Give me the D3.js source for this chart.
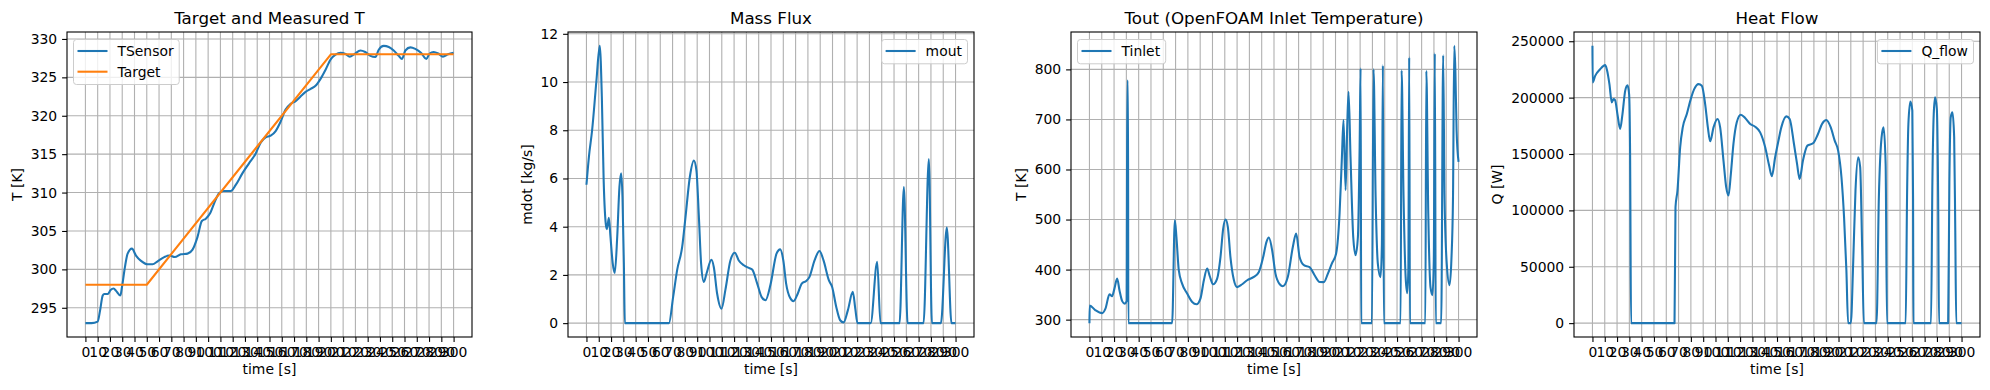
<!DOCTYPE html>
<html>
<head>
<meta charset="utf-8">
<script src="https://cdn.jsdelivr.net/npm/d3@7"></script>
<style>
body { margin: 0; background: #fff; }
text { font-family: "DejaVu Sans", sans-serif; fill: #000; }
</style>
</head>
<body>
<div id="chart"></div>
<script>
var width = 1990;
var height = 390;

// time axis ticks (s)
var timeTicks = [0,10,20,30,40,50,60,70,80,90,100,110,120,130,140,150,160,170,180,190,200,210,220,230,240,250,260,270,280,290,300];

// panel 1: measured and target temperature [K]
var tSensor = [[0,293.0],[5,293.0],[10,293.2],[11.9,294.6],[14.1,296.6],[15.4,296.8],[18.2,296.8],[20.5,297.3],[23,297.5],[25,297.2],[28.5,296.6],[29.8,297.7],[32.2,300.3],[34.4,302.05],[37.9,302.7],[41.2,301.8],[45.3,301.1],[50.7,300.66],[54.7,300.66],[58.8,301.05],[64.2,301.6],[68.3,301.8],[72.9,301.6],[77.8,301.96],[83.2,302.05],[87.3,302.57],[91.3,304.2],[94.9,306.3],[98.1,306.6],[101.6,307.3],[104.9,308.6],[108.9,309.9],[112.5,310.2],[118.4,310.2],[122.5,311.0],[127.9,312.5],[133.3,313.8],[138.8,315.1],[142.8,316.5],[146.9,317.2],[151,317.4],[155,318.0],[159.1,319.25],[163.1,320.8],[167.2,321.55],[171.3,321.9],[175.3,322.5],[179.4,323.1],[183.5,323.5],[187.5,323.9],[191.6,324.8],[195.7,326.0],[199.7,327.3],[203.8,327.95],[207.9,328.2],[211.9,328.05],[215.4,327.7],[219,328.0],[224.1,328.5],[228,328.3],[232.2,327.8],[236.3,327.65],[239,328.6],[243.1,329.1],[247.2,328.95],[251.2,328.5],[255.3,327.8],[258,327.4],[260.7,328.5],[264.8,328.9],[268.8,328.7],[273.4,328.2],[277.8,327.4],[280.5,328.1],[283.7,328.3],[287.5,328.1],[291.3,327.7],[295.5,328.0],[300,328.2]];
var tTarget = [[0,298],[50,298],[200,328],[300,328]];
var tTicks = [295,300,305,310,315,320,325,330];

// panel 2: mass flux [kg/s]
var mOut = [[0,5.74],[2,6.9],[4.6,8.0],[8.1,10.05],[10.8,11.5],[12.5,9.4],[14,5.9],[16,4.0],[16.6,3.9],[18.2,4.37],[19.5,3.6],[21.3,2.5],[23,2.08],[25,3.57],[26.8,5.64],[28.2,6.22],[29.3,5.2],[30.4,2.5],[31.2,0],[67,0],[70.5,1.1],[73.7,2.2],[77.8,3.16],[80.5,4.4],[84,6.05],[87.3,6.74],[89.4,6.33],[91.3,4.5],[93.2,2.47],[95.4,1.71],[97.6,2.06],[101.6,2.63],[103.5,2.33],[106.2,1.23],[109.8,0.6],[113,1.4],[117,2.6],[120.6,2.92],[123.8,2.6],[127.9,2.4],[131.5,2.3],[134.7,2.22],[138.8,1.64],[142.3,1.09],[145.5,0.95],[149.6,1.6],[154.5,2.88],[157.5,3.06],[160,2.6],[162.3,1.64],[165.5,1.05],[168.3,0.91],[171.8,1.23],[175,1.64],[178.6,1.75],[181.3,1.92],[185.4,2.6],[189.4,2.99],[192.7,2.6],[197,1.78],[199.7,1.5],[203,0.68],[206.2,0.12],[209,0.03],[212.5,0.54],[216.5,1.3],[218.5,0.6],[220.3,0],[231,0],[236.3,2.54],[239,0],[254.5,0],[258,5.64],[261,0],[274,0],[278.3,6.81],[280.8,0],[288.1,0],[292.9,3.96],[296.7,0],[300,0]];
var mTicks = [0,2,4,6,8,10,12];

// panel 3: OpenFOAM inlet temperature [K]
var tInlet = [[0,293],[0.2,328],[4.9,318.7],[10.3,313],[13,322],[16.3,350.7],[18.4,346.7],[20.3,362],[22.5,382],[24.4,358.7],[26.6,337],[28.7,332],[30.2,337],[30.8,777],[31.3,777],[31.6,293],[67.2,293],[69.4,498.7],[70.7,465],[72.6,398.7],[75.3,372],[79.4,352],[83.5,335.3],[87,330.7],[90.2,342],[93,378.7],[95.7,402],[97.8,386.7],[100.5,370.7],[103.8,382],[106.5,425],[108.7,482],[110.6,500],[112.5,485],[114.6,425],[117.3,380],[120,365],[124.1,370.7],[128.2,378.7],[133.6,385.3],[137.7,395.3],[141.2,425],[143.9,455.3],[145.8,464],[148.5,438.7],[151.2,392],[154.7,370.7],[157.2,366.7],[161.2,385],[165.3,445],[168,472],[170.8,425],[174.3,408.7],[178.9,405],[183,388.7],[187.1,375.3],[190.5,375],[193.8,392],[197,412],[200.5,432],[203.3,512],[205.2,625],[206.5,698.7],[208.2,558.7],[209.5,685],[210.6,755],[212.2,625],[214.4,465],[216.3,428.7],[218.2,465],[219.6,645],[220.4,802],[220.9,293],[229.6,293],[230.9,800],[232.6,545],[234.4,412],[236.6,385],[237.7,450],[238.5,808],[239.3,293],[252.9,293],[253.7,798],[255.3,545],[257,385],[258.3,353],[259.2,400],[259.9,824],[260.5,293],[273,293],[273.8,797],[275.4,512],[277.2,365],[278.8,349],[279.9,420],[280.7,832],[281.5,293],[285.9,293],[287.5,828],[288.6,545],[290.4,412],[292.7,369],[294.2,420],[295.5,545],[296.5,847],[297.4,800],[298.4,679],[300,615]];
var tInletTicks = [300,400,500,600,700,800];

// panel 4: heat flow [W]
var qFlow = [[0,245900],[0.2,213400],[2.2,219300],[6.2,225200],[10.3,228800],[11.7,225000],[13.8,212000],[15.7,195700],[17.1,198700],[18.4,197800],[20.3,185400],[22.5,172200],[24.4,185400],[26.6,206000],[28.5,211000],[29.8,203000],[30.6,150000],[31.4,0],[66.7,0],[67.5,102900],[69.1,117600],[71.3,156000],[73.4,173600],[76.7,185400],[79.9,198700],[82.7,207500],[86.2,212000],[88.9,210500],[91.6,194300],[93.8,173600],[95.7,161300],[98.4,173600],[101.6,181000],[103.8,173600],[106.5,144200],[108.7,120600],[110.6,113200],[112.5,132400],[114.6,158900],[117.3,178100],[120.6,184800],[124.1,181900],[128.2,176600],[132.2,174200],[136.3,169200],[140.4,156000],[143.6,139700],[145.8,130300],[148.5,147100],[151.2,162000],[153.5,173600],[157.6,183400],[160.3,181000],[163.8,158900],[166.3,141200],[168.4,127900],[171.1,144200],[174.7,157400],[179.3,159500],[183.3,167700],[186.9,177200],[190.1,180100],[193.7,173600],[196.9,161800],[199.7,153000],[202.4,129400],[204.5,94000],[206.4,46900],[207.8,0],[210,0],[211.9,52800],[213.8,117600],[216,147100],[217.6,138300],[219.2,67500],[220.6,0],[230.9,0],[232.8,111700],[235,164800],[236.6,173600],[238.3,141200],[239.4,0],[254.6,0],[255.7,111700],[256.8,176600],[258.4,196600],[260,188400],[260.6,110000],[260.9,0],[275.2,0],[276.3,125000],[277.4,185400],[278.5,200200],[279.9,190000],[281,110000],[281.7,0],[289.1,0],[290.1,125000],[291.2,182500],[292.6,186900],[294,165000],[294.9,82000],[295.7,0],[300,0]];
var qTicks = [0,50000,100000,150000,200000,250000];

var blue = "#1f77b4", orange = "#ff7f0e";
var top0 = 32, bottom0 = 337, fs = 13.9;

var panels = [
	{left: 67, right: 472, title: "Target and Measured T", ylabel: "T [K]", yTicks: tTicks, legend: "left",
		series: [{name: "TSensor", data: tSensor, color: blue, smooth: true}, {name: "Target", data: tTarget, color: orange, smooth: false}]},
	{left: 568, right: 974, title: "Mass Flux", ylabel: "mdot [kg/s]", yTicks: mTicks, legend: "right",
		series: [{name: "mout", data: mOut, color: blue, smooth: true}]},
	{left: 1071, right: 1477, title: "Tout (OpenFOAM Inlet Temperature)", ylabel: "T [K]", yTicks: tInletTicks, legend: "left",
		series: [{name: "Tinlet", data: tInlet, color: blue, smooth: true}]},
	{left: 1574, right: 1980, title: "Heat Flow", ylabel: "Q [W]", yTicks: qTicks, legend: "right",
		series: [{name: "Q_flow", data: qFlow, color: blue, smooth: true}]}
];

var svg = d3.select("#chart").append("svg")
	.attr("width", width)
	.attr("height", height);

function padded(ext) {
	var m = (ext[1] - ext[0]) * 0.05;
	return [ext[0] - m, ext[1] + m];
}

panels.forEach(function(p, pi) {
	var all = [];
	p.series.forEach(function(s) { all = all.concat(s.data); });
	var x = d3.scaleLinear().domain(padded(d3.extent(all, function(d) { return d[0]; }))).range([p.left, p.right]);
	var y = d3.scaleLinear().domain(padded(d3.extent(all, function(d) { return d[1]; }))).range([bottom0, top0]);

	var g = svg.append("g");

	// grid
	g.selectAll(".gx").data(timeTicks).enter().append("line")
		.attr("x1", function(d) { return x(d); }).attr("x2", function(d) { return x(d); })
		.attr("y1", top0).attr("y2", bottom0)
		.attr("stroke", "#b0b0b0").attr("stroke-width", 1.1);
	g.selectAll(".gy").data(p.yTicks).enter().append("line")
		.attr("y1", function(d) { return y(d); }).attr("y2", function(d) { return y(d); })
		.attr("x1", p.left).attr("x2", p.right)
		.attr("stroke", "#b0b0b0").attr("stroke-width", 1.1);

	// lines
	var clipId = "clip" + pi;
	svg.append("clipPath").attr("id", clipId).append("rect")
		.attr("x", p.left).attr("y", top0).attr("width", p.right - p.left).attr("height", bottom0 - top0);
	p.series.forEach(function(s) {
		var line = d3.line()
			.x(function(d) { return x(d[0]); })
			.y(function(d) { return y(d[1]); })
			.curve(s.smooth ? d3.curveMonotoneX : d3.curveLinear);
		g.append("path")
			.attr("d", line(s.data))
			.attr("clip-path", "url(#" + clipId + ")")
			.attr("fill", "none")
			.attr("stroke", s.color)
			.attr("stroke-width", 2.08)
			.attr("stroke-linejoin", "round");
	});

	// frame
	g.append("rect")
		.attr("x", p.left).attr("y", top0)
		.attr("width", p.right - p.left).attr("height", bottom0 - top0)
		.attr("fill", "none").attr("stroke", "#000").attr("stroke-width", 1.1);

	// axes
	var xAxis = g.append("g").attr("transform", "translate(0," + bottom0 + ")")
		.call(d3.axisBottom(x).tickValues(timeTicks).tickFormat(d3.format("d")).tickSize(4.9).tickPadding(4.9));
	var yAxis = g.append("g").attr("transform", "translate(" + p.left + ",0)")
		.call(d3.axisLeft(y).tickValues(p.yTicks).tickFormat(d3.format("d")).tickSize(4.9).tickPadding(4.9));
	[xAxis, yAxis].forEach(function(a) {
		a.select(".domain").remove();
		a.selectAll("line").attr("stroke", "#000").attr("stroke-width", 1.1);
		a.selectAll("text").attr("fill", "#000").style("font-size", fs + "px").style("font-family", "DejaVu Sans");
	});
	xAxis.selectAll("text").attr("dy", "0.76em");

	// labels
	g.append("text")
		.attr("x", (p.left + p.right) / 2).attr("y", 24)
		.attr("text-anchor", "middle")
		.style("font-size", "16.7px")
		.text(p.title);
	g.append("text")
		.attr("x", (p.left + p.right) / 2).attr("y", 374)
		.attr("text-anchor", "middle")
		.style("font-size", fs + "px")
		.text("time [s]");
	var yb = yAxis.node().getBBox();
	var lx = yb.x + p.left - 9;
	g.append("text")
		.attr("transform", "translate(" + lx + "," + ((top0 + bottom0) / 2) + ") rotate(-90)")
		.attr("text-anchor", "middle")
		.style("font-size", fs + "px")
		.text(p.ylabel);

	// legend
	var lg = g.append("g");
	var box = lg.append("rect")
		.attr("fill", "#fff").attr("fill-opacity", 0.8)
		.attr("stroke", "#cccccc").attr("stroke-width", 1)
		.attr("rx", 3).attr("ry", 3);
	var maxW = 0;
	p.series.forEach(function(s, i) {
		var cy = 51 + i * 20.7;
		lg.append("line")
			.attr("x1", 4).attr("x2", 34).attr("y1", cy).attr("y2", cy)
			.attr("stroke", s.color).attr("stroke-width", 2.08);
		var t = lg.append("text")
			.attr("x", 44).attr("y", cy).attr("dy", "0.36em")
			.style("font-size", fs + "px")
			.text(s.name);
		maxW = Math.max(maxW, t.node().getComputedTextLength());
	});
	var bw = 44 + maxW + 5.6;
	var bh = p.series.length * 20.7 + 3.6;
	box.attr("x", 0).attr("y", 39.5).attr("width", bw).attr("height", bh);
	var bx = p.legend === "left" ? p.left + 6.5 : p.right - 6.5 - bw;
	lg.attr("transform", "translate(" + bx + ",0)");
});
</script>
</body>
</html>
